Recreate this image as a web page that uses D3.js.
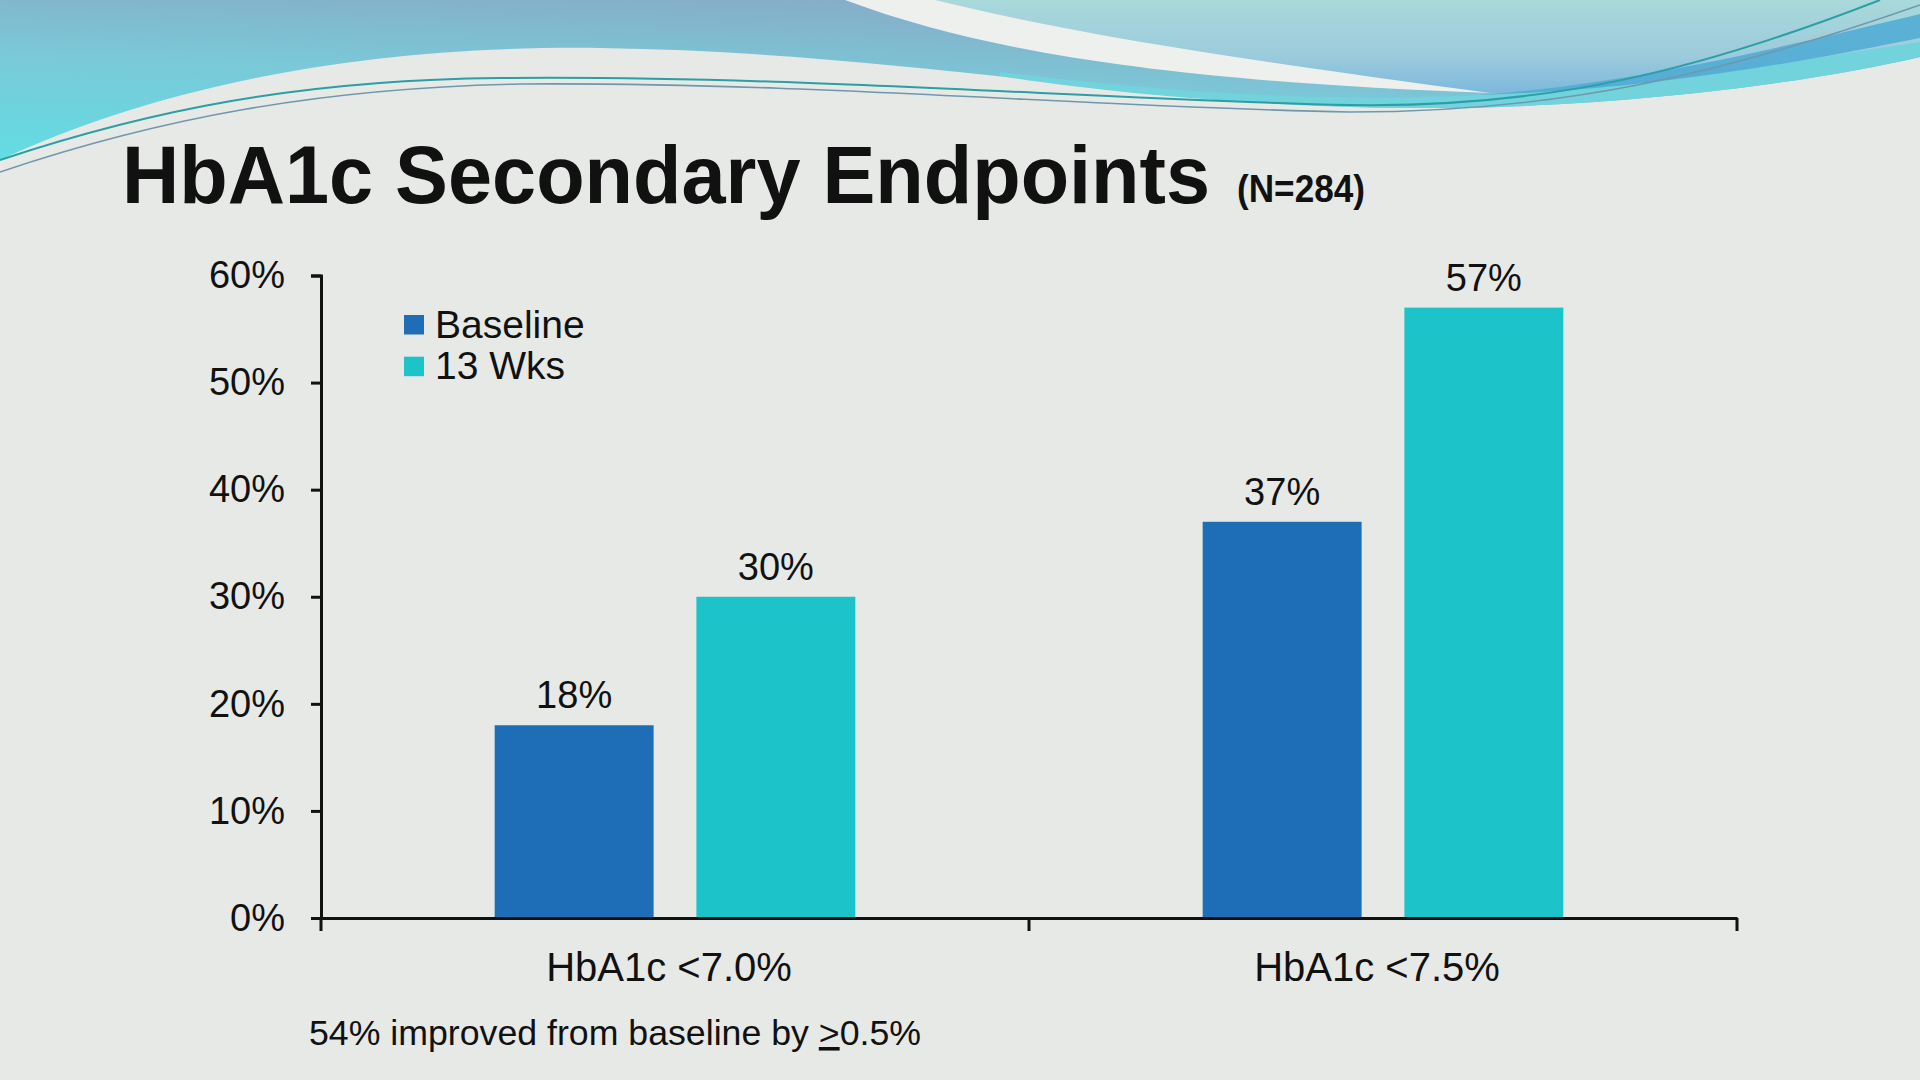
<!DOCTYPE html>
<html>
<head>
<meta charset="utf-8">
<script src="https://cdn.jsdelivr.net/npm/d3@7/dist/d3.min.js"></script>
<style>
  html, body { margin: 0; padding: 0; background: #e7e9e6; }
  svg { display: block; }
  text { font-family: "Liberation Sans", Arial, sans-serif; fill: #111; }
</style>
</head>
<body>
<svg id="chart" width="1920" height="1080"></svg>
<script>
// ---- data ----
const categories = ["HbA1c <7.0%", "HbA1c <7.5%"];
const seriesNames = ["Baseline", "13 Wks"];
const baselineValues = [0.18, 0.37];
const wk13Values = [0.30, 0.57];
const yTickValues = [0, 0.1, 0.2, 0.3, 0.4, 0.5, 0.6];
const seriesColors = ["#1e6eb7", "#1cc3c8"];
const titleText = "HbA1c Secondary Endpoints";
const subtitleText = "(N=284)";

const seriesValues = [baselineValues, wk13Values];
const rows = [];
categories.forEach((c, ci) => seriesNames.forEach((s, si) => rows.push({cat: c, series: s, value: seriesValues[si][ci], color: seriesColors[si]})));

const svg = d3.select("#chart");

// ---- background & header decoration ----
svg.append("rect").attr("width", 1920).attr("height", 1080).attr("fill", "#e7e9e6");
const defs = svg.append("defs");
const g1 = defs.append("linearGradient").attr("id", "gLeft").attr("x1", "0").attr("y1", "1").attr("x2", "0.45").attr("y2", "0");
g1.append("stop").attr("offset", "0").attr("stop-color", "#62dde3");
g1.append("stop").attr("offset", "0.55").attr("stop-color", "#7ac9d8");
g1.append("stop").attr("offset", "1").attr("stop-color", "#86adc8");
const g2 = defs.append("linearGradient").attr("id", "gRight").attr("x1", "0").attr("y1", "0").attr("x2", "0").attr("y2", "1");
g2.append("stop").attr("offset", "0").attr("stop-color", "#a9d9da");
g2.append("stop").attr("offset", "0.6").attr("stop-color", "#9ccbdc");
g2.append("stop").attr("offset", "1").attr("stop-color", "#7cb8dc");

const hdr = svg.append("g");
hdr.append("path")
  .attr("d", "M0,0 H1920 V57 C1800,85 1600,110 1400,108 C1150,105 900,52 600,48 C350,45 150,90 0,160 Z")
  .attr("fill", "url(#gLeft)");
hdr.append("path")
  .attr("d", "M925,0 H1920 V45 C1800,70 1650,92 1480,93 C1280,75 1090,35 925,0 Z")
  .attr("fill", "url(#gRight)");
hdr.append("path")
  .attr("d", "M1000,72 C1200,96 1350,102 1480,95 C1650,88 1800,60 1920,42 V57 C1800,85 1600,110 1400,108 C1250,106 1100,92 1000,76 Z")
  .attr("fill", "#72d3dc");
hdr.append("path")
  .attr("d", "M1480,95 C1650,82 1800,42 1920,14 V38 C1800,62 1650,90 1480,95 Z")
  .attr("fill", "#4eaad4").attr("opacity", 0.85);
hdr.append("path")
  .attr("d", "M845,0 C1000,58 1200,82 1490,93 C1260,62 1080,36 935,0 Z")
  .attr("fill", "#eef0ee");
hdr.append("path")
  .attr("d", "M0,160 C150,110 300,80 500,78 C800,75 1100,100 1350,105 C1550,108 1700,70 1880,0")
  .attr("fill", "none").attr("stroke", "#2a9fa6").attr("stroke-width", 2);
hdr.append("path")
  .attr("d", "M0,172 C160,118 320,88 520,84 C820,82 1100,108 1350,112 C1560,112 1720,75 1920,5")
  .attr("fill", "none").attr("stroke", "#6f98ad").attr("stroke-width", 1.6);

// ---- title ----
svg.append("text").attr("x", 122).attr("y", 202.5)
  .attr("font-size", 82).attr("font-weight", "bold")
  .attr("textLength", 1088).attr("lengthAdjust", "spacingAndGlyphs")
  .text(titleText);
svg.append("text").attr("x", 1237).attr("y", 202)
  .attr("font-size", 39).attr("font-weight", "bold")
  .attr("textLength", 128).attr("lengthAdjust", "spacingAndGlyphs")
  .text(subtitleText);

// ---- scales ----
const y = d3.scaleLinear().domain([0, 0.6]).range([918, 275.5]);
const x0 = d3.scaleBand().domain(categories).range([321, 1737]).paddingInner(0).paddingOuter(0);
const x1 = d3.scaleBand().domain(seriesNames).range([0, x0.bandwidth()]).paddingInner(0.212).paddingOuter(0.861);

// ---- bars ----
svg.append("g").selectAll("rect").data(rows).join("rect")
  .attr("x", d => x0(d.cat) + x1(d.series))
  .attr("y", d => y(d.value))
  .attr("width", x1.bandwidth())
  .attr("height", d => y(0) - y(d.value))
  .attr("fill", d => d.color);

// ---- value labels ----
svg.append("g").selectAll("text").data(rows).join("text")
  .attr("x", d => x0(d.cat) + x1(d.series) + x1.bandwidth() / 2)
  .attr("y", d => y(d.value) - 17)
  .attr("text-anchor", "middle")
  .attr("font-size", 38)
  .text(d => d3.format(".0%")(d.value));

// ---- y axis ----
const yAxis = svg.append("g").attr("transform", "translate(321,0)")
  .call(d3.axisLeft(y).tickValues(yTickValues).tickFormat(d3.format(".0%"))
    .tickSize(10).tickSizeOuter(10).tickPadding(26));
yAxis.select(".domain").attr("stroke", "#111").attr("stroke-width", 3);
yAxis.selectAll(".tick line").attr("stroke", "#111").attr("stroke-width", 3);
yAxis.selectAll(".tick text").attr("font-size", 38).attr("font-family", "Liberation Sans, Arial, sans-serif").attr("fill", "#111");

// ---- x axis ----
const xAxis = svg.append("g").attr("transform", "translate(0,918)")
  .call(d3.axisBottom(x0).tickSize(0).tickSizeOuter(0).tickPadding(63));
xAxis.select(".domain").attr("stroke", "#111").attr("stroke-width", 3);
xAxis.selectAll(".tick text").attr("font-size", 40).attr("font-family", "Liberation Sans, Arial, sans-serif").attr("fill", "#111").attr("dy", "0").attr("dx", -6);
const boundaries = categories.map(c => x0(c)).concat([x0(categories[categories.length - 1]) + x0.bandwidth()]);
xAxis.append("g").selectAll("line").data(boundaries).join("line")
  .attr("x1", d => d).attr("x2", d => d).attr("y1", 0).attr("y2", 13)
  .attr("stroke", "#111").attr("stroke-width", 3);

// ---- legend ----
const legend = svg.append("g").attr("transform", "translate(404,315)");
seriesNames.forEach((s, i) => {
  const gg = legend.append("g").attr("transform", `translate(0,${i * 41.7})`);
  gg.append("rect").attr("width", 20).attr("height", 19.5).attr("fill", seriesColors[i]);
  gg.append("text").attr("x", 31).attr("y", 22.5).attr("font-size", 39).text(s);
});

// ---- footnote ----
const fn = svg.append("text").attr("x", 309).attr("y", 1045).attr("font-size", 35.7);
fn.append("tspan").text("54% improved from baseline by ");
fn.append("tspan").attr("text-decoration", "underline").text(">");
fn.append("tspan").text("0.5%");
</script>
</body>
</html>
